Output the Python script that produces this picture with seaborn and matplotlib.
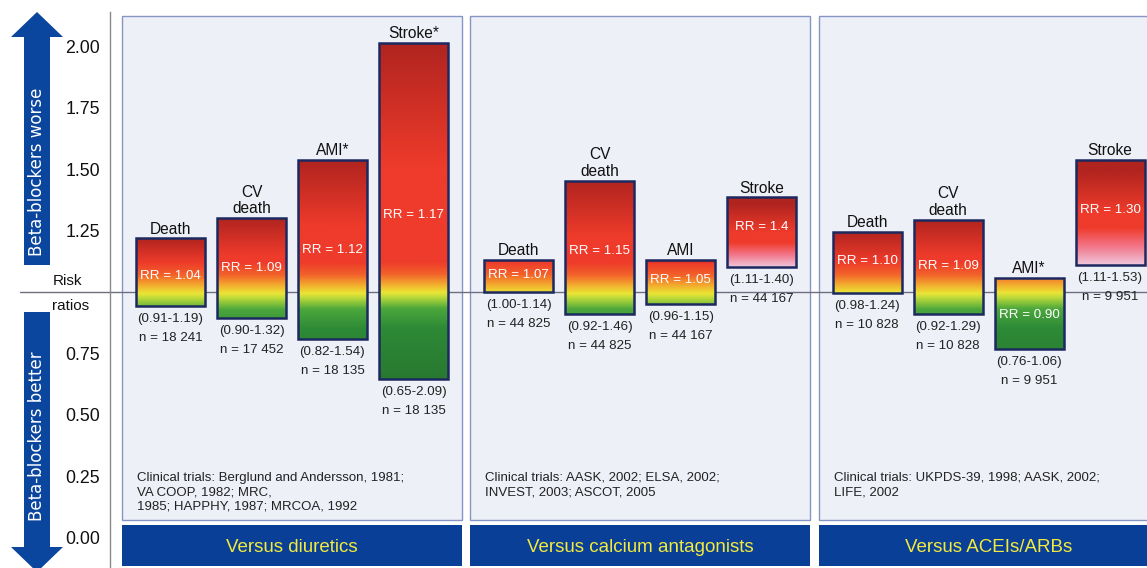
import numpy as np
import pandas as pd
import matplotlib
matplotlib.use("Agg")
import matplotlib.pyplot as plt
import seaborn as sns
from matplotlib.patches import Rectangle, Polygon
from matplotlib.colors import to_rgb

# ---------------- data ----------------
comparisons = ["Versus diuretics", "Versus calcium antagonists", "Versus ACEIs/ARBs"]
outcome_labels = [
    ["Death", "CV\ndeath", "AMI*", "Stroke*"],
    ["Death", "CV\ndeath", "AMI", "Stroke"],
    ["Death", "CV\ndeath", "AMI*", "Stroke"],
]
rr_labels = [
    ["1.04", "1.09", "1.12", "1.17"],
    ["1.07", "1.15", "1.05", "1.4"],
    ["1.10", "1.09", "0.90", "1.30"],
]
ci_labels = [
    ["(0.91-1.19)", "(0.90-1.32)", "(0.82-1.54)", "(0.65-2.09)"],
    ["(1.00-1.14)", "(0.92-1.46)", "(0.96-1.15)", "(1.11-1.40)"],
    ["(0.98-1.24)", "(0.92-1.29)", "(0.76-1.06)", "(1.11-1.53)"],
]
n_labels = [
    ["18 241", "17 452", "18 135", "18 135"],
    ["44 825", "44 825", "44 167", "44 167"],
    ["10 828", "10 828", "9 951", "9 951"],
]
# drawn bar extents
bar_low = [
    [0.945, 0.896, 0.810, 0.644],
    [1.000, 0.912, 0.953, 1.100],
    [0.994, 0.912, 0.766, 1.108],
]
bar_high = [
    [1.218, 1.300, 1.536, 2.016],
    [1.132, 1.454, 1.132, 1.385],
    [1.246, 1.295, 1.059, 1.536],
]
rr_label_y = [
    [1.067, 1.096, 1.173, 1.312],
    [1.071, 1.169, 1.047, 1.263],
    [1.128, 1.104, 0.908, 1.332],
]
trials = [
    "Clinical trials: Berglund and Andersson, 1981;\nVA COOP, 1982; MRC,\n1985; HAPPHY, 1987; MRCOA, 1992",
    "Clinical trials: AASK, 2002; ELSA, 2002;\nINVEST, 2003; ASCOT, 2005",
    "Clinical trials: UKPDS-39, 1998; AASK, 2002;\nLIFE, 2002",
]
yticks = [0.0, 0.25, 0.5, 0.75, 1.25, 1.5, 1.75, 2.0]
ytick_labels = ["0.00", "0.25", "0.50", "0.75", "1.25", "1.50", "1.75", "2.00"]

# ---------------- layout helpers ----------------
W, H = 1147, 568
GROUP_STEP = 4.3
def px2x(px):
    return (px - 170.5) / 81.0
def py2v(py):
    return (537.5 - py) / 245.5

sns.set_style("white")
plt.rcParams["font.family"] = ["Liberation Sans", "DejaVu Sans"]

fig = plt.figure(figsize=(W / 100, H / 100), dpi=100)
ax = fig.add_axes([110 / W, 0, 1 - 110 / W, 1])

rows = []
for g in range(3):
    for i in range(4):
        rows.append(dict(pos=g * GROUP_STEP + i, low=bar_low[g][i],
                         height=bar_high[g][i] - bar_low[g][i]))
df = pd.DataFrame(rows)

sns.barplot(data=df, x="pos", y="height", native_scale=True, width=0.85,
            fill=False, color="#1c2960", linewidth=1.8,
            bottom=df["low"].to_numpy(), errorbar=None, ax=ax, zorder=4)
bars = list(ax.patches)

RED = "#ee3b2b"
DARK = "#b0241f"
PINK = "#efc6dc"
BASE = [(0.60, "#27752f"), (0.85, "#2d8a36"), (0.93, "#4ca73c"),
        (0.975, "#b9d93a"), (0.995, "#ebe535"), (1.03, "#f3a92e"),
        (1.07, "#f2622a"), (1.12, RED)]

def gradient(lo, hi, n=256):
    v = np.linspace(lo, hi, n)
    if lo > 1.05:
        r = hi - lo
        stops = [(lo, PINK), (lo + 0.18 * r, "#f27486"), (lo + 0.35 * r, RED),
                 (lo + 0.5 * r, RED), (hi - 0.1 * r, DARK), (hi, DARK)]
    else:
        vr = max(1.12, hi - 0.5 * (hi - 1.0))
        stops = [s for s in BASE if s[0] < vr] + [(vr, RED)]
        if hi > vr:
            stops.append((hi, DARK))
    xs = [s[0] for s in stops]
    cs = np.array([to_rgb(s[1]) for s in stops])
    return np.stack([np.interp(v, xs, cs[:, k]) for k in range(3)], axis=1)

for p, lo, hi in zip(bars, df["low"], df["low"] + df["height"]):
    x0, w = p.get_x(), p.get_width()
    y0, h = p.get_y(), p.get_height()
    img = gradient(lo, hi)[:, None, :]
    im = ax.imshow(img, origin="lower", extent=(x0, x0 + w, y0, y0 + h),
                   aspect="auto", zorder=3, interpolation="bilinear")
    im.set_clip_path(p)

# panels + label boxes
for g in range(3):
    x0 = g * GROUP_STEP - 0.6
    ax.add_patch(Rectangle((x0, py2v(520)), 4.2, py2v(16) - py2v(520),
                           fc="#eef0f8", ec="#8596c4", lw=1.0, zorder=1))
    ax.add_patch(Rectangle((x0, py2v(566)), 4.2, py2v(525) - py2v(566),
                           fc="#0a3f98", ec="none", zorder=1))
    ax.text(x0 + 2.1, py2v(547), comparisons[g], ha="center", va="center",
            fontsize=13.5, color="#f2ea3c", zorder=5)
    ax.text(x0 + 15 / 81, py2v(472), trials[g], ha="left", va="top",
            fontsize=9.5, color="#222222", linespacing=1.27, zorder=5)
    for i in range(4):
        cx = g * GROUP_STEP + i
        lo, hi = bar_low[g][i], bar_high[g][i]
        ax.text(cx, hi + 0.008, outcome_labels[g][i], ha="center", va="bottom",
                fontsize=11.2, color="#111111", linespacing=1.15, zorder=5)
        ax.text(cx, rr_label_y[g][i], "RR = " + rr_labels[g][i], ha="center",
                va="center", fontsize=9.6, color="white", zorder=5)
        ax.text(cx, lo - 13 / 245.5, ci_labels[g][i], ha="center", va="center",
                fontsize=9.6, color="#222222", zorder=5)
        ax.text(cx, lo - 32 / 245.5, "n = " + n_labels[g][i], ha="center",
                va="center", fontsize=9.6, color="#222222", zorder=5)

# reference line at RR = 1
ax.plot([px2x(20), px2x(W)], [1.0, 1.0], color="#6e6e7e", lw=1.0,
        zorder=2, clip_on=False)

ax.set_xlim(px2x(110), px2x(W))
ax.set_ylim(py2v(H), py2v(0))
ax.set_xlabel("")
ax.set_ylabel("")
ax.set_xticks([])
ax.set_yticks(yticks, ytick_labels)
ax.tick_params(axis="y", length=0, pad=7, labelsize=12.8, labelcolor="#111111")
for s in ["top", "right", "bottom"]:
    ax.spines[s].set_visible(False)
ax.spines["left"].set_color("#8a8a8a")
ax.spines["left"].set_linewidth(1.0)
ax.spines["left"].set_bounds(py2v(H), py2v(12))
ax.set_facecolor("white")

ax.text(px2x(68), py2v(281), "Risk", ha="center", va="center", fontsize=11,
        color="#111111", clip_on=False)
ax.text(px2x(71), py2v(306), "ratios", ha="center", va="center", fontsize=11,
        color="#111111", clip_on=False)

# arrows (figure pixel coordinates)
def fpt(px, py):
    return (px / W, 1 - py / H)

ARROW = "#0a459e"
up = [fpt(37, 12), fpt(63, 37), fpt(50, 37), fpt(50, 265), fpt(24, 265),
      fpt(24, 37), fpt(11, 37)]
down = [fpt(24, 312), fpt(50, 312), fpt(50, 547), fpt(63, 547), fpt(37, 572),
        fpt(11, 547), fpt(24, 547)]
for pts in (up, down):
    fig.patches.append(Polygon(pts, closed=True, fc=ARROW, ec="none",
                               transform=fig.transFigure, figure=fig))
fig.text(*fpt(37, 172), "Beta-blockers worse", rotation=90, ha="center",
         va="center", color="white", fontsize=12, family="DejaVu Sans")
fig.text(*fpt(37, 436), "Beta-blockers better", rotation=90, ha="center",
         va="center", color="white", fontsize=12, family="DejaVu Sans")

fig.savefig("out.png", dpi=100, facecolor="white")
